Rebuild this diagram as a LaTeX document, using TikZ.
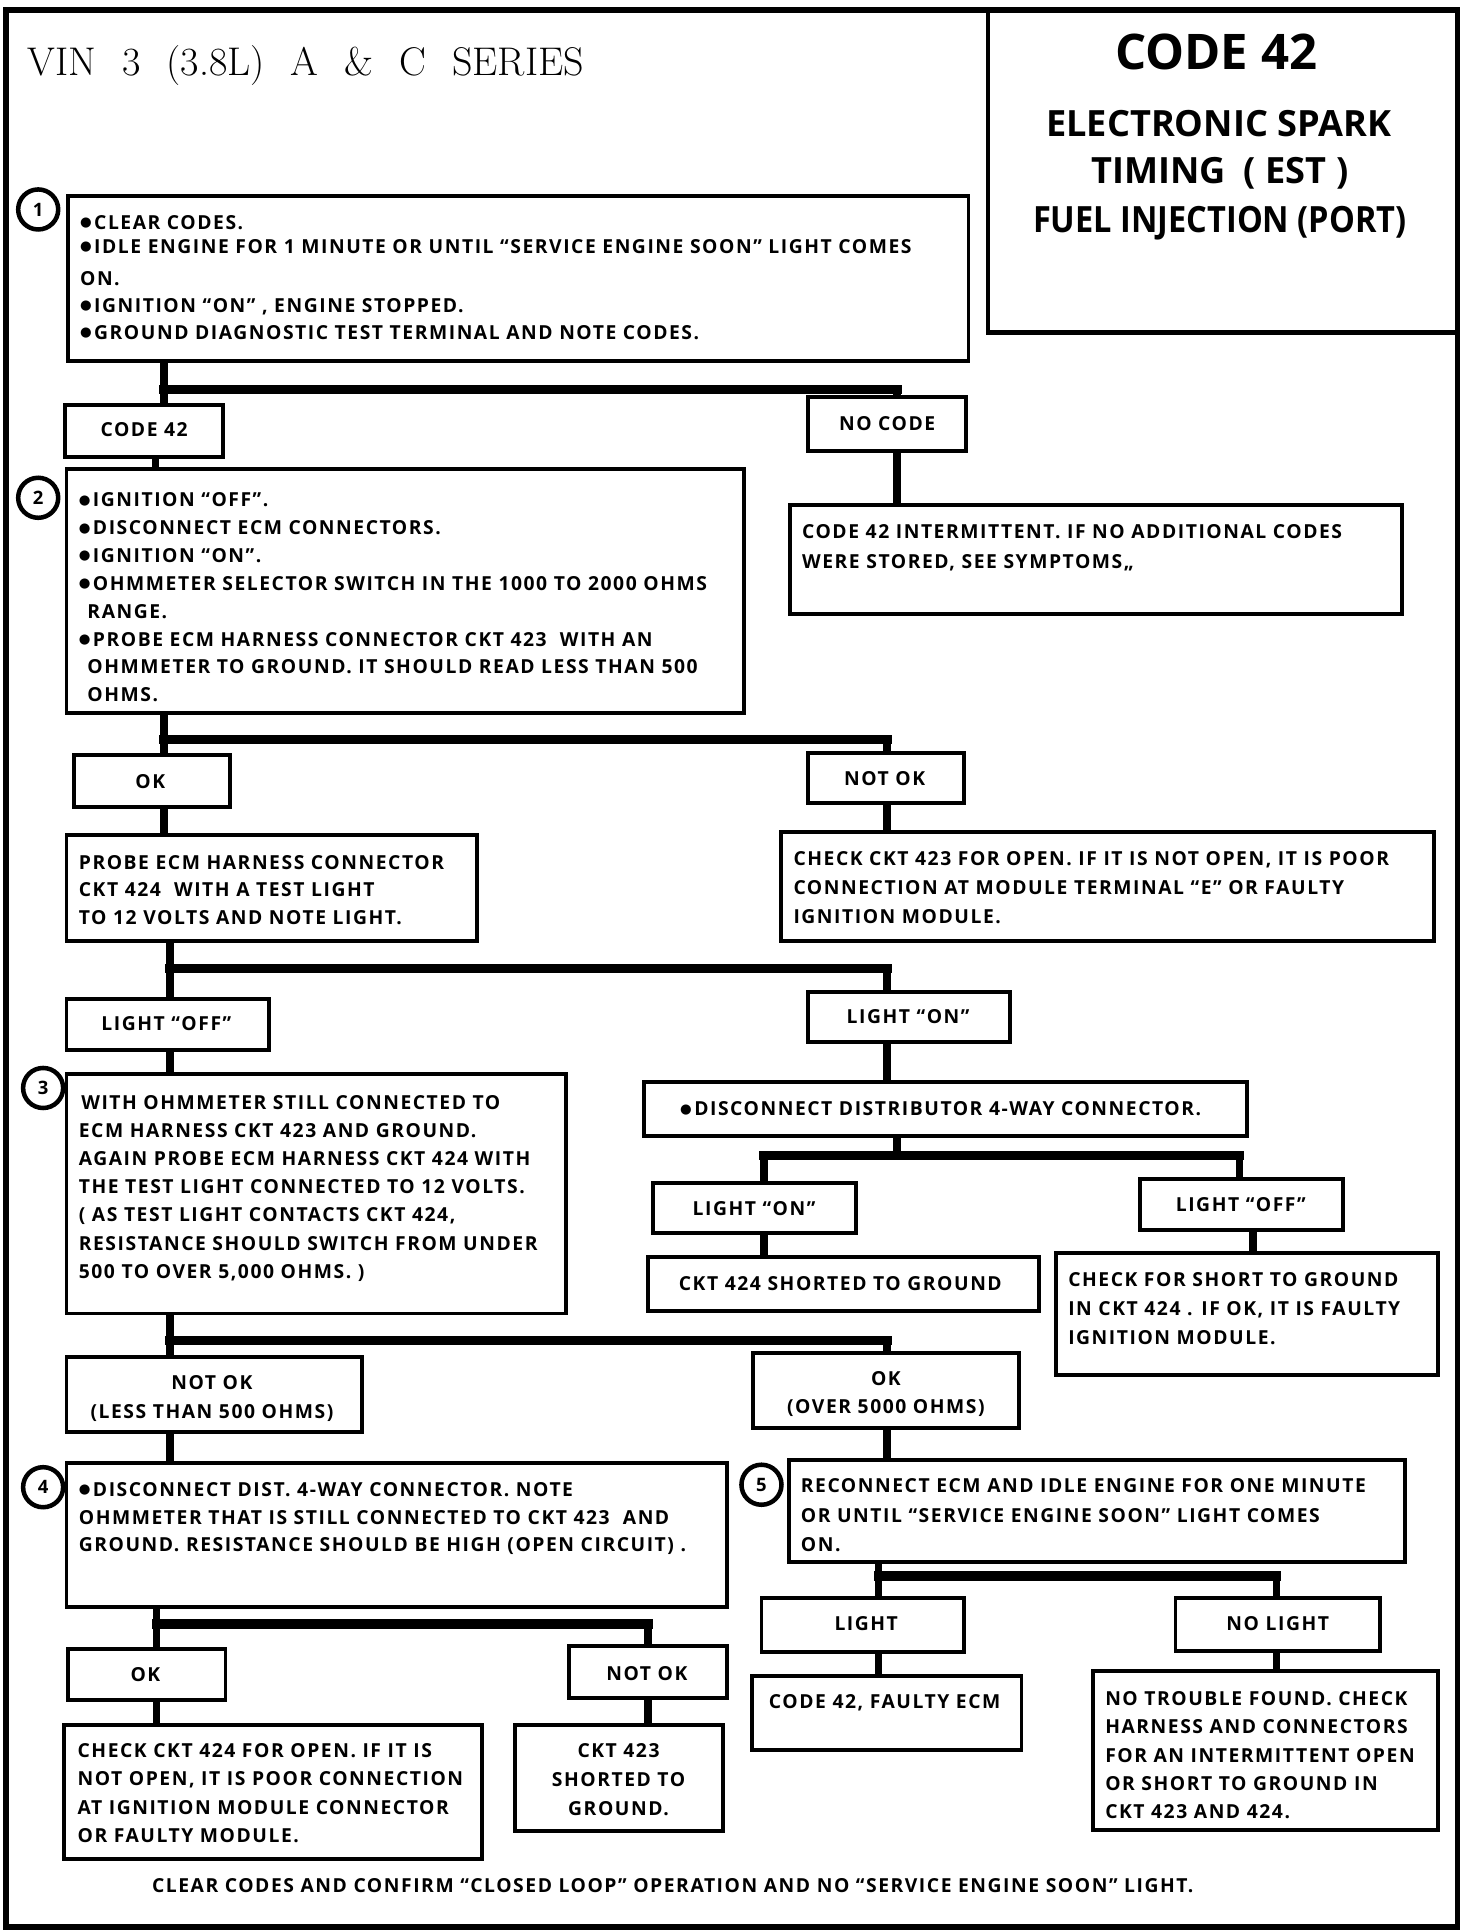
\documentclass[tikz,border=0pt]{standalone}
\usepackage{fontspec}
\newfontfamily\cf{Open Sans}[LetterSpace=8]
\newfontfamily\hf{Open Sans}
\newfontfamily\hfn{Open Sans}[FakeStretch=0.9]
\newfontfamily\djv{DejaVu Sans}
\newcommand\bul{\raisebox{1.3pt}{\djv\fontsize{6.5}{6.5}\selectfont ●}\hspace{1.2pt}}
\usetikzlibrary{calc}
\tikzset{
  bx/.style={draw, line width=1.9pt, inner sep=0pt, outer sep=0pt},
  tx/.style={inner sep=0pt, outer sep=0pt, align=left, font={\cf\bfseries\fontsize{9.4}{#1}\selectfont}},
  tx/.default=13.6,
  stem/.style={line width=3.6pt},
  bar/.style={line width=4.6pt, line cap=rect},
  num/.style={circle, draw, line width=2.2pt, minimum size=19.5pt, inner sep=0pt, font={\hf\bfseries\fontsize{9}{10}\selectfont}},
  hd/.style={inner sep=0pt, font={\hf\bfseries\fontsize{17.6}{20}\selectfont}}
}
\newcommand\mybx[5]{\node[bx, anchor=north west, minimum width={(#4-#2)*0.6pt}, minimum height={(#5-#3)*0.6pt}] (#1) at (#2,#3) {};}
\begin{document}
\begin{tikzpicture}[x=0.6pt,y=-0.6pt]
\useasboundingbox (0,0) rectangle (1195,1568);
% frame and header
\draw[line width=2.6pt] (5,8) rectangle (1183,1564);
\draw[line width=2.2pt] (802,8) |- (1183,270);
\node[anchor=west, inner sep=0pt, font={\fontsize{19.5}{22}\selectfont}] (title) at (22,53) {VIN\hspace{.65em}3\hspace{.65em}(3.8L)\hspace{.65em}A\hspace{.65em}\&\hspace{.65em}C\hspace{.65em}SERIES};
\node[hd, font={\hf\bfseries\fontsize{23.9}{26}\selectfont}] (h1) at (987,42) {CODE 42};
\node[hd] (h2) at (989,100) {ELECTRONIC SPARK};
\node[hd] (h3) at (990,141) {TIMING\hspace{.5em}( EST )};
\node[hd, font={\hfn\bfseries\fontsize{17.6}{20}\selectfont}] (h4) at (990,181) {FUEL INJECTION (PORT)};

% boxes
\mybx{b1}{55}{159}{786}{293}
\mybx{c42}{53}{329}{181}{371}
\mybx{nocode}{656}{322}{784}{366}
\mybx{inter}{641}{410}{1138}{498}
\mybx{b2}{54}{381}{604}{579}
\mybx{ok1}{60}{613}{187}{655}
\mybx{notok1}{656}{611}{782}{652}
\mybx{probe}{54}{678}{387}{764}
\mybx{ckop}{634}{675}{1164}{764}
\mybx{loff}{54}{811}{218}{852}
\mybx{lon}{656}{805}{820}{846}
\mybx{b3}{54}{872}{459}{1066}
\mybx{disc}{523}{878}{1012}{922}
\mybx{lon2}{530}{960}{695}{1001}
\mybx{loff2}{925}{957}{1090}{998}
\mybx{short}{526}{1020}{843}{1064}
\mybx{chk}{857}{1017}{1167}{1116}
\mybx{notok2}{54}{1101}{294}{1162}
\mybx{ok2}{611}{1098}{827}{1159}
\mybx{b4}{54}{1187}{590}{1304}
\mybx{b5}{640}{1185}{1140}{1268}
\mybx{ok3}{55}{1338}{183}{1380}
\mybx{notok3}{462}{1336}{590}{1378}
\mybx{chkop}{52}{1400}{391}{1509}
\mybx{cksh}{418}{1400}{587}{1486}
\mybx{light}{618}{1297}{782}{1341}
\mybx{nolight}{954}{1297}{1120}{1340}
\mybx{faulty}{610}{1360}{829}{1420}
\mybx{ntf}{887}{1356}{1167}{1485}

% step numbers
\node[num] (n1) at (31,170) {1};
\node[num] (n2) at (31,404) {2};
\node[num] (n3) at (35,883) {3};
\node[num] (n4) at (35,1207) {4};
\node[num] (n5) at (618,1205) {5};

% junction coordinates
\coordinate (j1) at (133,316); \coordinate (k1) at (728,316); \coordinate (v1) at (126,350);
\coordinate (j2) at (133,600); \coordinate (k2) at (720,600);
\coordinate (j3) at (138,786); \coordinate (k3) at (720,786);
\coordinate (m4) at (728,938); \coordinate (j4) at (620,938); \coordinate (k4) at (1006,938); \coordinate (v4) at (1017,1005);
\coordinate (j5) at (138,1088); \coordinate (k5) at (720,1088);
\coordinate (j6) at (127,1318); \coordinate (k6) at (526,1318);
\coordinate (j7) at (713,1279); \coordinate (k7) at (1036,1279);

% tree 1
\draw[stem] (b1.south -| j1) -- (c42.north -| j1);
\draw[bar] (j1) -- (k1);
\draw[stem] (k1) -- (nocode.north -| k1);
\draw[stem] (nocode.south -| k1) -- (inter.north -| k1);
\draw[stem] (c42.south -| v1) -- (b2.north -| v1);
% tree 2
\draw[stem] (b2.south -| j2) -- (ok1.north -| j2);
\draw[bar] (j2) -- (k2);
\draw[stem] (k2) -- (notok1.north -| k2);
\draw[stem] (ok1.south -| j2) -- (probe.north -| j2);
\draw[stem] (notok1.south -| k2) -- (ckop.north -| k2);
% tree 3
\draw[stem] (probe.south -| j3) -- (loff.north -| j3);
\draw[bar] (j3) -- (k3);
\draw[stem] (k3) -- (lon.north -| k3);
\draw[stem] (loff.south -| j3) -- (b3.north -| j3);
\draw[stem] (lon.south -| k3) -- (disc.north -| k3);
% tree 4
\draw[stem] (disc.south -| m4) -- (m4);
\draw[bar] (j4) -- (k4);
\draw[stem] (j4) -- (lon2.north -| j4);
\draw[stem] (k4) -- (loff2.north -| k4);
\draw[stem] (lon2.south -| j4) -- (short.north -| j4);
\draw[stem] (loff2.south -| v4) -- (chk.north -| v4);
% tree 5
\draw[stem] (b3.south -| j5) -- (notok2.north -| j5);
\draw[bar] (j5) -- (k5);
\draw[stem] (k5) -- (ok2.north -| k5);
\draw[stem] (notok2.south -| j5) -- (b4.north -| j5);
\draw[stem] (ok2.south -| k5) -- (b5.north -| k5);
% tree 6
\draw[stem] (b4.south -| j6) -- (ok3.north -| j6);
\draw[bar] (j6) -- (k6);
\draw[stem] (k6) -- (notok3.north -| k6);
\draw[stem] (ok3.south -| j6) -- (chkop.north -| j6);
\draw[stem] (notok3.south -| k6) -- (cksh.north -| k6);
% tree 7
\draw[stem] (b5.south -| j7) -- (light.north -| j7);
\draw[bar] (j7) -- (k7);
\draw[stem] (k7) -- (nolight.north -| k7);
\draw[stem] (light.south -| j7) -- (faulty.north -| j7);
\draw[stem] (nolight.south -| k7) -- (ntf.north -| k7);

% texts
\node[tx=13.2, anchor=north west] (b1t) at (65,175) {\bul CLEAR CODES.\\[-1.8pt]\bul IDLE ENGINE FOR 1 MINUTE OR UNTIL “SERVICE ENGINE SOON” LIGHT COMES\\[2.4pt]ON.\\\bul IGNITION “ON” , ENGINE STOPPED.\\\bul GROUND DIAGNOSTIC TEST TERMINAL AND NOTE CODES.};
\node[tx] (c42t) at (117,349) {CODE 42};
\node[tx] (nocodet) at (720,344) {NO CODE};
\node[tx=14.4, anchor=north west] (intert) at (651,426) {CODE 42 INTERMITTENT. IF NO ADDITIONAL CODES\\WERE STORED, SEE SYMPTOMS„};
\node[tx=13.56, anchor=north west] (b2t) at (64,400) {\bul IGNITION “OFF”.\\\bul DISCONNECT ECM CONNECTORS.\\\bul IGNITION “ON”.\\\bul OHMMETER SELECTOR SWITCH IN THE 1000 TO 2000 OHMS\\\hspace*{4.2pt}RANGE.\\\bul PROBE ECM HARNESS CONNECTOR CKT 423\ \ WITH AN\\\hspace*{4.2pt}OHMMETER TO GROUND. IT SHOULD READ LESS THAN 500\\\hspace*{4.2pt}OHMS.};
\node[tx] (ok1t) at (122,634) {OK};
\node[tx] (notok1t) at (718,632) {NOT OK};
\node[tx=13.5, anchor=north west] (probet) at (64,694) {PROBE ECM HARNESS CONNECTOR\\CKT 424\ \ WITH A TEST LIGHT\\TO 12 VOLTS AND NOTE LIGHT.};
\node[tx=14.1, anchor=north west] (ckopt) at (644,691) {CHECK CKT 423 FOR OPEN. IF IT IS NOT OPEN, IT IS POOR\\CONNECTION AT MODULE TERMINAL “E” OR FAULTY\\IGNITION MODULE.};
\node[tx] (lofft) at (135,831) {LIGHT “OFF”};
\node[tx] (lont) at (737,825) {LIGHT “ON”};
\node[tx=13.7, anchor=north west] (b3t) at (64,889) {\hspace*{1.2pt}WITH OHMMETER STILL CONNECTED TO\\ECM HARNESS CKT 423 AND GROUND.\\AGAIN PROBE ECM HARNESS CKT 424 WITH\\THE TEST LIGHT CONNECTED TO 12 VOLTS.\\( AS TEST LIGHT CONTACTS CKT 424,\\RESISTANCE SHOULD SWITCH FROM UNDER\\500 TO OVER 5,000 OHMS. )};
\node[tx, anchor=west] (disct) at (552,900) {\bul DISCONNECT DISTRIBUTOR 4-WAY CONNECTOR.};
\node[tx] (lon2t) at (612,981) {LIGHT “ON”};
\node[tx] (loff2t) at (1007,978) {LIGHT “OFF”};
\node[tx] (shortt) at (682,1042) {CKT 424 SHORTED TO GROUND};
\node[tx=14.1, anchor=north west] (chkt) at (867,1033) {CHECK FOR SHORT TO GROUND\\IN CKT 424 . IF OK, IT IS FAULTY\\IGNITION MODULE.};
\node[tx=14.4, align=center, anchor=north] (notok2t) at (172,1116) {NOT OK\\(LESS THAN 500 OHMS)};
\node[tx=13.8, align=center, anchor=north] (ok2t) at (719,1113) {OK\\(OVER 5000 OHMS)};
\node[tx=13.5, anchor=north west] (b4t) at (64,1203) {\bul DISCONNECT DIST. 4-WAY CONNECTOR. NOTE\\OHMMETER THAT IS STILL CONNECTED TO CKT 423\ \ AND\\GROUND. RESISTANCE SHOULD BE HIGH (OPEN CIRCUIT) .};
\node[tx=14.4, anchor=north west] (b5t) at (650,1200) {RECONNECT ECM AND IDLE ENGINE FOR ONE MINUTE\\OR UNTIL “SERVICE ENGINE SOON” LIGHT COMES\\ON.};
\node[tx] (ok3t) at (118,1359) {OK};
\node[tx] (notok3t) at (525,1358) {NOT OK};
\node[tx=13.8, anchor=north west] (chkopt) at (63,1415) {CHECK CKT 424 FOR OPEN. IF IT IS\\NOT OPEN, IT IS POOR CONNECTION\\AT IGNITION MODULE CONNECTOR\\OR FAULTY MODULE.};
\node[tx=14.1, align=center, anchor=north] (ckshT) at (502,1415) {CKT 423\\SHORTED TO\\GROUND.};
\node[tx] (lightt) at (703,1318) {LIGHT};
\node[tx] (nolightt) at (1037,1318) {NO LIGHT};
\node[tx] (faultyt) at (718,1382) {CODE 42, FAULTY ECM};
\node[tx=13.7, anchor=north west] (ntft) at (897,1373) {NO TROUBLE FOUND. CHECK\\HARNESS AND CONNECTORS\\FOR AN INTERMITTENT OPEN\\OR SHORT TO GROUND IN\\CKT 423 AND 424.};
\node[tx] (foot) at (546,1530) {CLEAR CODES AND CONFIRM “CLOSED LOOP” OPERATION AND NO “SERVICE ENGINE SOON” LIGHT.};
\end{tikzpicture}
\end{document}
